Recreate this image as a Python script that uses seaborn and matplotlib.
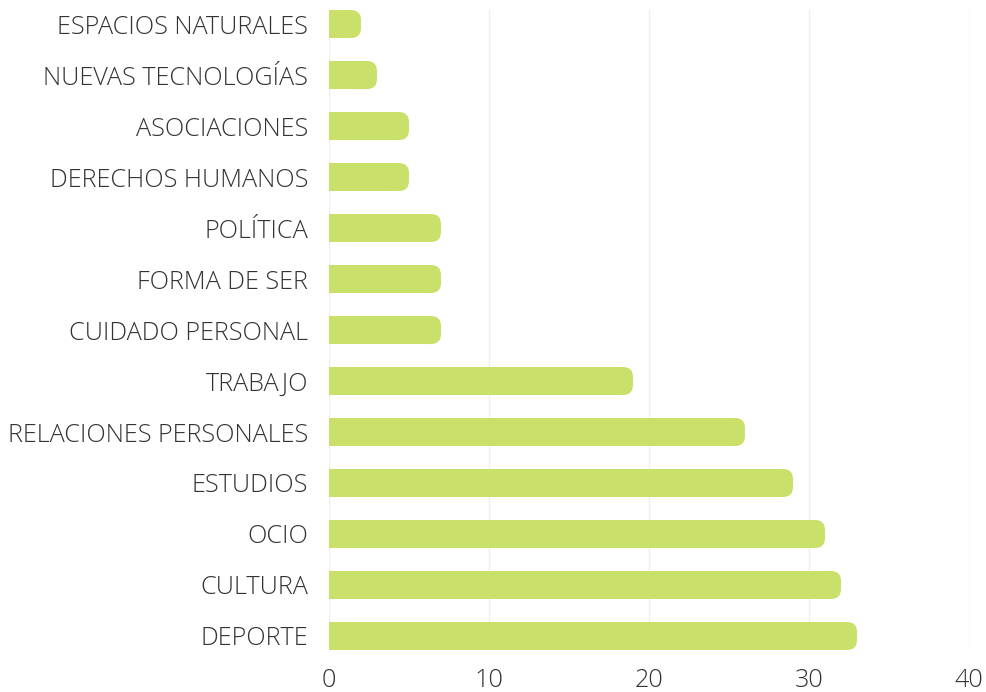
import matplotlib
matplotlib.use("Agg")
import matplotlib.pyplot as plt
from matplotlib.patches import FancyBboxPatch
import seaborn as sns
import pandas as pd

categories = ["ESPACIOS NATURALES", "NUEVAS TECNOLOGÍAS", "ASOCIACIONES",
              "DERECHOS HUMANOS", "POLÍTICA", "FORMA DE SER", "CUIDADO PERSONAL",
              "TRABAJO", "RELACIONES PERSONALES", "ESTUDIOS", "OCIO", "CULTURA",
              "DEPORTE"]
values = [2, 3, 5, 5, 7, 7, 7, 19, 26, 29, 31, 32, 33]
x_ticks = [0, 10, 20, 30, 40]

df = pd.DataFrame({"cat": categories, "val": values})

sns.set_theme(style="white")
plt.rcParams["font.family"] = ["Open Sans", "DejaVu Sans"]

fig = plt.figure(figsize=(9.87, 6.92), dpi=100)
ax = fig.add_axes([0.3333, 0.0607, 0.9818 - 0.3333, 0.9855 - 0.0607])

bar_h = 0.55
color = "#c9e16a"
sns.barplot(data=df, y="cat", x="val", orient="h", color=color, width=bar_h,
            saturation=1, ax=ax, zorder=3, linewidth=0)

ax.set_xlim(0, 40)
ax.set_ylim(len(categories) - 1 + bar_h / 2, -bar_h / 2)
ax.set_xticks(x_ticks)
ax.set_xticklabels([str(t) for t in x_ticks])
ax.set_xlabel("")
ax.set_ylabel("")
ax.grid(axis="x", color="#efefef", linewidth=1, zorder=0)
ax.grid(axis="y", visible=False)
for s in ax.spines.values():
    s.set_visible(False)
ax.tick_params(axis="y", length=0, pad=15, labelsize=18.2, labelcolor="#333333")
ax.tick_params(axis="x", length=0, pad=13, labelsize=18.2, labelcolor="#333333")
for lab in ax.get_yticklabels() + ax.get_xticklabels():
    lab.set_fontweight("light")

# rounded right ends
fig.canvas.draw()
px_per_x = ax.transData.transform((1, 0))[0] - ax.transData.transform((0, 0))[0]
px_per_y = abs(ax.transData.transform((0, 1))[1] - ax.transData.transform((0, 0))[1])
r_px = 10
r_x = r_px / px_per_x
aspect = px_per_x / px_per_y
for p in list(ax.patches):
    x0, y0 = p.get_x(), p.get_y()
    w, h = p.get_width(), p.get_height()
    if w <= 0:
        continue
    p.set_width(max(w - r_x, 0))
    rb = FancyBboxPatch((x0 + w - 3 * r_x, y0), 3 * r_x, h,
                        boxstyle=f"round,pad=0,rounding_size={r_x}",
                        mutation_aspect=aspect,
                        facecolor=color, edgecolor="none", linewidth=0, zorder=3)
    ax.add_patch(rb)

fig.savefig("out.png", dpi=100, facecolor="white")
